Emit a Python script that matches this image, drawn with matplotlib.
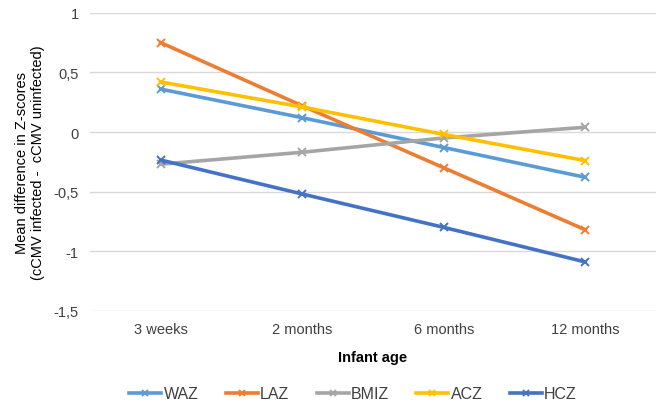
import matplotlib.pyplot as plt
from matplotlib.ticker import FuncFormatter

plt.rcParams["font.family"] = ["Liberation Sans", "DejaVu Sans"]

ages = ["3 weeks", "2 months", "6 months", "12 months"]
waz = [0.36, 0.12, -0.13, -0.38]
laz = [0.75, 0.22, -0.30, -0.82]
bmiz = [-0.27, -0.17, -0.05, 0.04]
acz = [0.42, 0.21, -0.02, -0.24]
hcz = [-0.235, -0.52, -0.80, -1.09]

series = [
    ("WAZ", waz, "#5B9BD5"),
    ("LAZ", laz, "#ED7D31"),
    ("BMIZ", bmiz, "#A5A5A5"),
    ("ACZ", acz, "#FFC000"),
    ("HCZ", hcz, "#4472C4"),
]

fig = plt.figure(figsize=(6.66, 4.06), dpi=100)
ax = fig.add_axes([0.135, 0.232, 0.85, 0.734])

x = range(len(ages))
for name, vals, col in series:
    ax.plot(x, vals, color=col, lw=2.6, marker="x", ms=6, mew=1.4, label=name)

ax.set_xlim(-0.5, 3.5)
ax.set_ylim(-1.5, 1)
ax.set_yticks([1, 0.5, 0, -0.5, -1, -1.5])
ax.yaxis.set_major_formatter(FuncFormatter(lambda v, p: f"{v:g}".replace(".", ",")))
ax.set_xticks(list(x))
ax.set_xticklabels(ages)
ax.grid(axis="y", color="#D9D9D9", lw=1)
ax.set_axisbelow(True)
for s in ax.spines.values():
    s.set_visible(False)
ax.tick_params(length=0, labelsize=10.5, colors="#404040", pad=8)
ax.set_xlabel("Infant age", fontsize=10.5, fontweight="bold", labelpad=10)
ax.set_ylabel("Mean difference in Z-scores\n(cCMV infected -  cCMV uninfected)",
              fontsize=10.5, labelpad=6)

ax.legend(loc="upper center", bbox_to_anchor=(0.465, -0.205), ncol=5, frameon=False,
          fontsize=11.5, handlelength=2.0, handletextpad=0.15, columnspacing=1.7,
          markerscale=0.7, labelcolor="#404040")

fig.savefig("out.png", dpi=100)
